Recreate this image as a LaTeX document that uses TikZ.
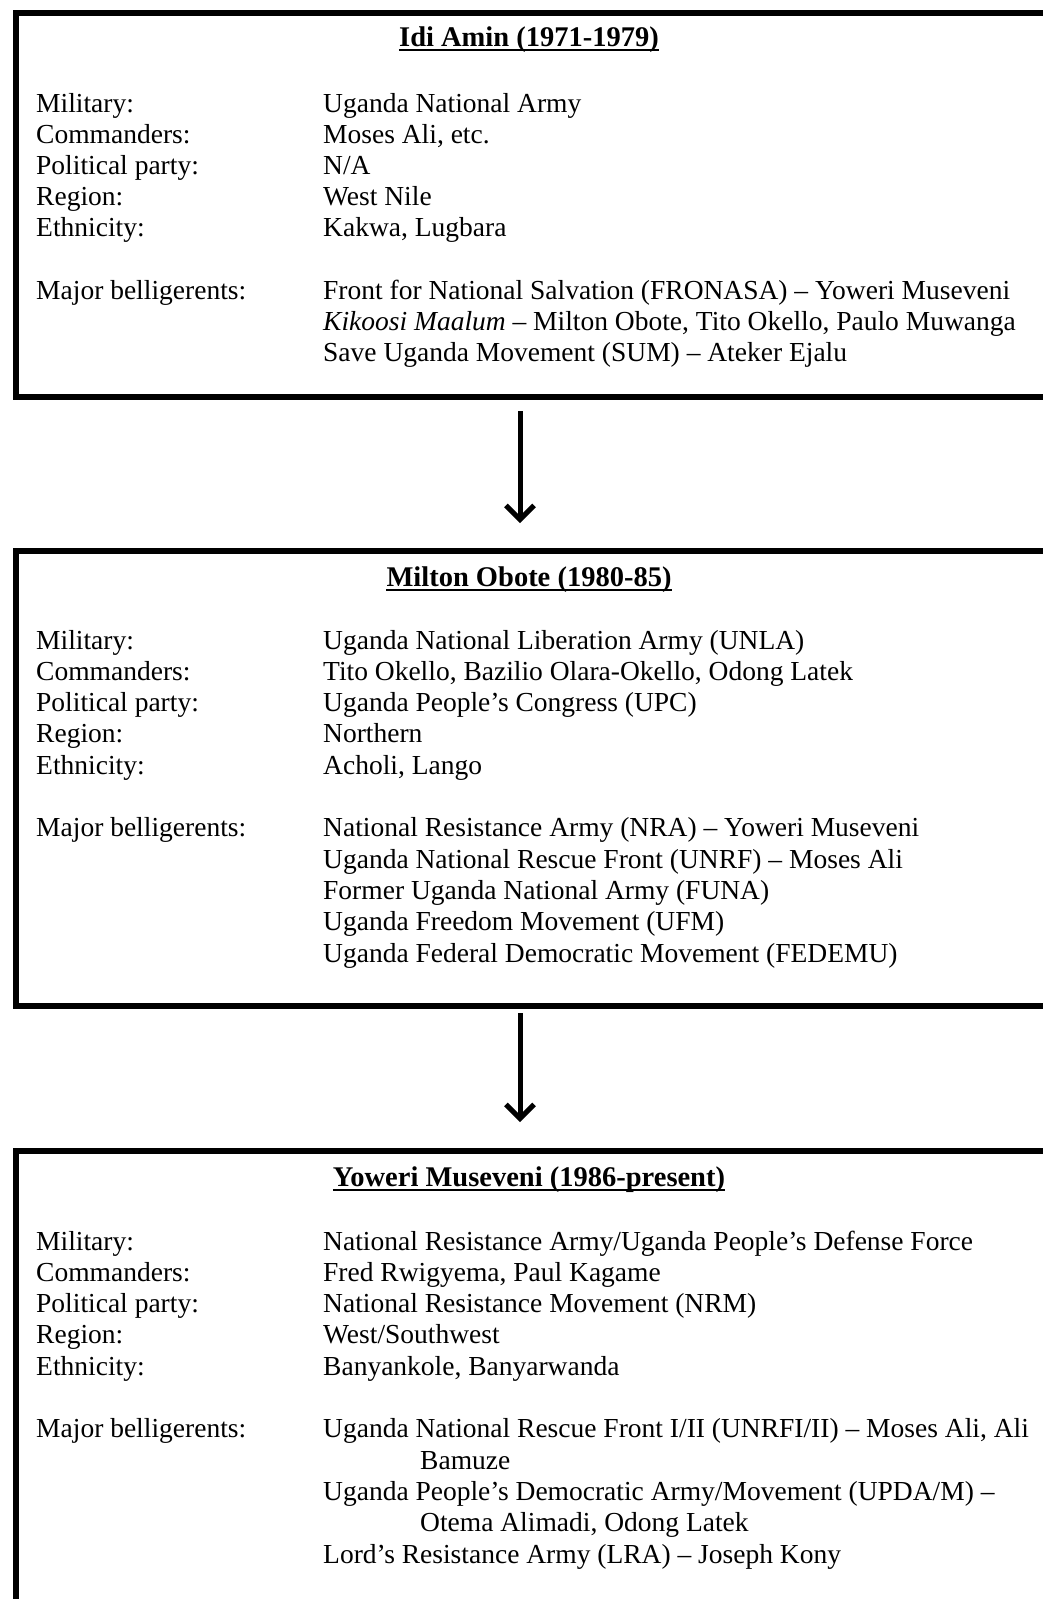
\documentclass[tikz,border=0pt]{standalone}
\usepackage{fontspec}
\setmainfont{Liberation Serif}
\usetikzlibrary{arrows.meta}
\tikzset{
  frame/.style={draw=black, line width=6pt, fill=white, inner sep=0pt, anchor=north west},
  txt/.style={anchor=base west, inner sep=0pt, font=\fontsize{27.5}{31}\selectfont},
  ttl/.style={anchor=base, inner sep=0pt, font=\bfseries\fontsize{28.5}{31}\selectfont},
  uline/.style={line width=2.2pt},
  flow/.style={line width=5pt, -{Straight Barb[length=14pt, width=28pt]}},
}
\begin{document}
\begin{tikzpicture}[x=1pt,y=-1pt]
\useasboundingbox (0,0) rectangle (1043,1599);
\clip (0,0) rectangle (1043,1599);
% ---------- box 1 ----------
\node[frame, minimum width=1032pt, minimum height=384pt] (b1) at (13,10) {};
\node[ttl] (t1) at (529,46) {Idi Amin (1971-1979)};
\draw[uline] ([yshift=-4pt]t1.base west) -- ([yshift=-4pt]t1.base east);
\node[txt] (l11) at (36,112) {Military:};
\node[txt] (l12) at (36,143.2) {Commanders:};
\node[txt] (l13) at (36,174.4) {Political party:};
\node[txt] (l14) at (36,205.6) {Region:};
\node[txt] (l15) at (36,236.8) {Ethnicity:};
\node[txt] (l16) at (36,299.2) {Major belligerents:};
\node[txt] (v11) at (323,112) {Uganda National Army};
\node[txt] (v12) at (323,143.2) {Moses Ali, etc.};
\node[txt] (v13) at (323,174.4) {N/A};
\node[txt] (v14) at (323,205.6) {West Nile};
\node[txt] (v15) at (323,236.8) {Kakwa, Lugbara};
\node[txt] (v16) at (323,299.2) {Front for National Salvation (FRONASA) – Yoweri Museveni};
\node[txt] (v17) at (323,330.4) {\textit{Kikoosi Maalum} – Milton Obote, Tito Okello, Paulo Muwanga};
\node[txt] (v18) at (323,361.6) {Save Uganda Movement (SUM) – Ateker Ejalu};
% ---------- box 2 ----------
\node[frame, minimum width=1032pt, minimum height=455pt] (b2) at (13,548) {};
\node[ttl] (t2) at (529,586) {Milton Obote (1980-85)};
\draw[uline] ([yshift=-4pt]t2.base west) -- ([yshift=-4pt]t2.base east);
\node[txt] (l21) at (36,649) {Military:};
\node[txt] (l22) at (36,680.3) {Commanders:};
\node[txt] (l23) at (36,711.6) {Political party:};
\node[txt] (l24) at (36,742.9) {Region:};
\node[txt] (l25) at (36,774.2) {Ethnicity:};
\node[txt] (l26) at (36,836.8) {Major belligerents:};
\node[txt] (v21) at (323,649) {Uganda National Liberation Army (UNLA)};
\node[txt] (v22) at (323,680.3) {Tito Okello, Bazilio Olara-Okello, Odong Latek};
\node[txt] (v23) at (323,711.6) {Uganda People’s Congress (UPC)};
\node[txt] (v24) at (323,742.9) {Northern};
\node[txt] (v25) at (323,774.2) {Acholi, Lango};
\node[txt] (v26) at (323,836.8) {National Resistance Army (NRA) – Yoweri Museveni};
\node[txt] (v27) at (323,868.1) {Uganda National Rescue Front (UNRF) – Moses Ali};
\node[txt] (v28) at (323,899.4) {Former Uganda National Army (FUNA)};
\node[txt] (v29) at (323,930.7) {Uganda Freedom Movement (UFM)};
\node[txt] (v2a) at (323,962) {Uganda Federal Democratic Movement (FEDEMU)};
% ---------- box 3 ----------
\node[frame, minimum width=1032pt, minimum height=520pt] (b3) at (13,1148) {};
\node[ttl] (t3) at (529,1186) {Yoweri Museveni (1986-present)};
\draw[uline] ([yshift=-4pt]t3.base west) -- ([yshift=-4pt]t3.base east);
\node[txt] (l31) at (36,1250) {Military:};
\node[txt] (l32) at (36,1281.3) {Commanders:};
\node[txt] (l33) at (36,1312.6) {Political party:};
\node[txt] (l34) at (36,1343.9) {Region:};
\node[txt] (l35) at (36,1375.2) {Ethnicity:};
\node[txt] (l36) at (36,1437.8) {Major belligerents:};
\node[txt] (v31) at (323,1250) {National Resistance Army/Uganda People’s Defense Force};
\node[txt] (v32) at (323,1281.3) {Fred Rwigyema, Paul Kagame};
\node[txt] (v33) at (323,1312.6) {National Resistance Movement (NRM)};
\node[txt] (v34) at (323,1343.9) {West/Southwest};
\node[txt] (v35) at (323,1375.2) {Banyankole, Banyarwanda};
\node[txt] (v36) at (323,1437.8) {Uganda National Rescue Front I/II (UNRFI/II) – Moses Ali, Ali};
\node[txt] (v37) at (420,1469.1) {Bamuze};
\node[txt] (v38) at (323,1500.4) {Uganda People’s Democratic Army/Movement (UPDA/M) –};
\node[txt] (v39) at (420,1531.7) {Otema Alimadi, Odong Latek};
\node[txt] (v3a) at (323,1563) {Lord’s Resistance Army (LRA) – Joseph Kony};
% ---------- arrows ----------
\draw[flow] ([xshift=-12pt,yshift=-11pt]b1.south) -- ([xshift=-12pt,yshift=25pt]b2.north);
\draw[flow] ([xshift=-12pt,yshift=-4pt]b2.south) -- ([xshift=-12pt,yshift=26pt]b3.north);
\end{tikzpicture}
\end{document}
